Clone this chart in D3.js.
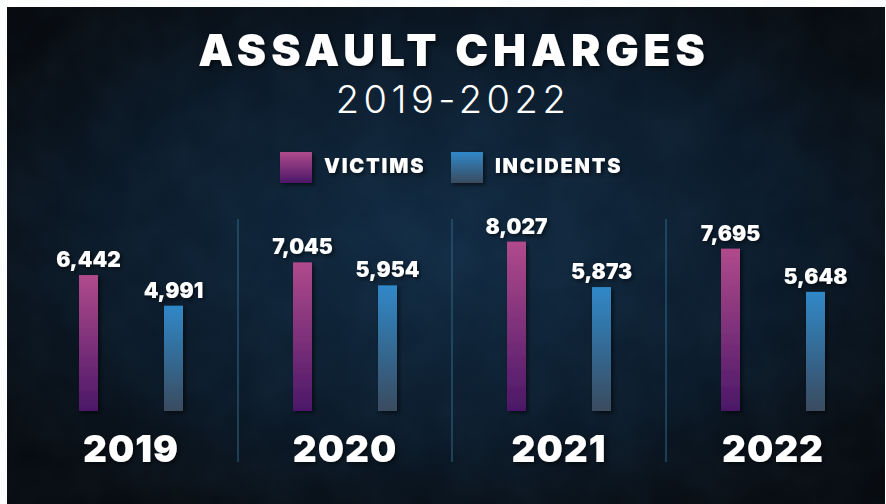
<!DOCTYPE html>
<html>
<head>
<meta charset="utf-8">
<script src="https://cdn.jsdelivr.net/npm/d3@7"></script>
<style>
  html, body { margin: 0; padding: 0; background: #ffffff; }
  svg { display: block; }
  text { font-family: "Inter", "DejaVu Sans", sans-serif; fill: #ffffff; }
</style>
</head>
<body>
<div id="chart"></div>
<script>
// values
const years = ["2019", "2020", "2021", "2022"];
const series = ["victims", "incidents"];
const seriesLabels = ["VICTIMS", "INCIDENTS"];
const victims = [6442, 7045, 8027, 7695];
const incidents = [4991, 5954, 5873, 5648];

const width = 886, height = 504;

const svg = d3.select("#chart").append("svg")
    .attr("width", width)
    .attr("height", height);

const defs = svg.append("defs");

// background glow
const bg = defs.append("radialGradient")
    .attr("id", "bg")
    .attr("cx", "50%").attr("cy", "48%").attr("r", "62%");
bg.append("stop").attr("offset", "0%").attr("stop-color", "#122c44");
bg.append("stop").attr("offset", "55%").attr("stop-color", "#0c1d2e");
bg.append("stop").attr("offset", "100%").attr("stop-color", "#080c11");

const grads = {
    victims: ["#b04a8c", "#4b1868"],
    incidents: ["#2f88c8", "#3a4b5f"]
};
Object.entries(grads).forEach(([k, c]) => {
    const g = defs.append("linearGradient")
        .attr("id", "grad-" + k)
        .attr("x1", 0).attr("y1", 0).attr("x2", 0).attr("y2", 1);
    g.append("stop").attr("offset", "0%").attr("stop-color", c[0]);
    g.append("stop").attr("offset", "100%").attr("stop-color", c[1]);
});

const shadow = defs.append("filter").attr("id", "shadow")
    .attr("x", "-30%").attr("y", "-30%").attr("width", "160%").attr("height", "160%");
shadow.append("feDropShadow")
    .attr("dx", 2).attr("dy", 2).attr("stdDeviation", 2)
    .attr("flood-color", "#000").attr("flood-opacity", 0.6);

// grunge texture
const noise = defs.append("filter").attr("id", "noise");
noise.append("feTurbulence")
    .attr("type", "fractalNoise").attr("baseFrequency", 0.02).attr("numOctaves", 3).attr("seed", 4);
noise.append("feColorMatrix")
    .attr("type", "matrix")
    .attr("values", "0 0 0 0 0.12  0 0 0 0 0.3  0 0 0 0 0.5  0 0 0 0.35 -0.1");

svg.append("rect")
    .attr("x", 7).attr("y", 7)
    .attr("width", width - 8).attr("height", height - 7)
    .attr("fill", "url(#bg)");
svg.append("rect")
    .attr("x", 7).attr("y", 7)
    .attr("width", width - 8).attr("height", height - 7)
    .attr("filter", "url(#noise)")
    .attr("opacity", 0.25);

// titles
svg.append("text")
    .attr("x", 454).attr("y", 65.5)
    .attr("text-anchor", "middle")
    .attr("font-size", 44)
    .attr("font-weight", 900)
    .attr("letter-spacing", 5)
    .attr("filter", "url(#shadow)")
    .text("ASSAULT CHARGES");

svg.append("text")
    .attr("x", 453).attr("y", 112.8)
    .attr("text-anchor", "middle")
    .attr("font-size", 38)
    .attr("font-weight", 300)
    .attr("letter-spacing", 4.5)
    .text("2019-2022");

// scales
const x0 = d3.scaleBand()
    .domain(years)
    .range([24, 880]);

const x1 = d3.scalePoint()
    .domain(series)
    .range([-42.5, 42.5]);

const y = d3.scaleLinear()
    .domain([0, 10000])
    .range([411, 200]);

const barW = 19;

// legend
const legend = svg.append("g");
const legendX = [280, 451];
series.forEach((s, i) => {
    const g = legend.append("g").attr("transform", `translate(${legendX[i]},152)`);
    g.append("rect")
        .attr("width", 32).attr("height", 31)
        .attr("fill", `url(#grad-${s})`)
        .attr("filter", "url(#shadow)");
    g.append("text")
        .attr("x", 44).attr("y", 21)
        .attr("font-size", 20)
        .attr("font-weight", 900)
        .attr("letter-spacing", 1.8)
        .attr("filter", "url(#shadow)")
        .text(seriesLabels[i]);
});

// dividers between year groups
svg.append("g").selectAll("line")
    .data(years.slice(1))
    .join("line")
    .attr("x1", d => x0(d)).attr("x2", d => x0(d))
    .attr("y1", 219).attr("y2", 462)
    .attr("stroke", "#2b5c7a")
    .attr("stroke-opacity", 0.8)
    .attr("stroke-width", 1.5);

// data rows
const rows = years.map((yr, i) => ({year: yr, victims: victims[i], incidents: incidents[i]}));

const groups = svg.append("g").selectAll("g")
    .data(rows)
    .join("g")
    .attr("transform", d => `translate(${x0(d.year) + x0.bandwidth() / 2},0)`);

groups.selectAll("rect")
    .data(d => series.map(s => ({key: s, value: d[s]})))
    .join("rect")
    .attr("x", d => x1(d.key) - barW / 2)
    .attr("y", d => y(d.value))
    .attr("width", barW)
    .attr("height", d => y(0) - y(d.value))
    .attr("fill", d => `url(#grad-${d.key})`)
    .attr("filter", "url(#shadow)");

groups.selectAll("text.val")
    .data(d => series.map(s => ({key: s, value: d[s]})))
    .join("text")
    .attr("class", "val")
    .attr("x", d => x1(d.key))
    .attr("y", d => y(d.value) - 8)
    .attr("text-anchor", "middle")
    .attr("font-size", 21)
    .attr("font-weight", 900)
    .attr("filter", "url(#shadow)")
    .text(d => d3.format(",")(d.value));

// year labels
groups.append("text")
    .attr("y", 462)
    .attr("text-anchor", "middle")
    .attr("font-size", 37)
    .attr("font-weight", 900)
    .attr("letter-spacing", 1)
    .attr("filter", "url(#shadow)")
    .text(d => d.year);
</script>
</body>
</html>
